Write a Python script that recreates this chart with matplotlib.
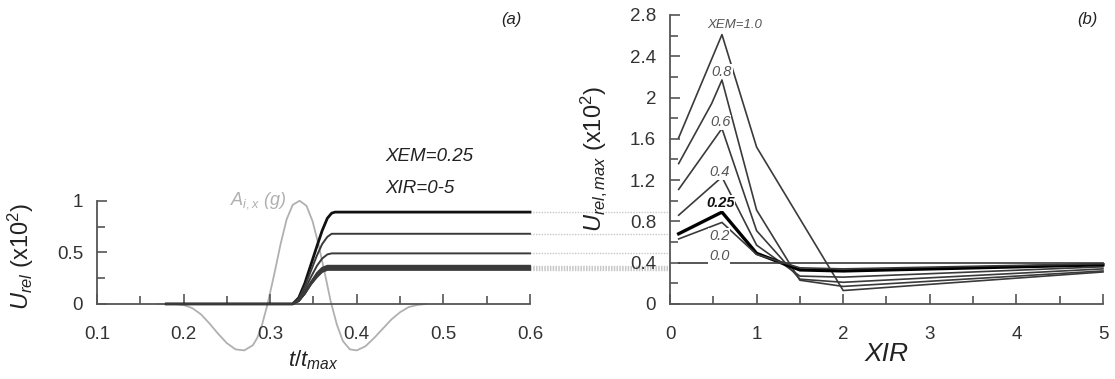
import matplotlib
matplotlib.use('Agg')
import matplotlib.pyplot as plt
import matplotlib.transforms as mtransforms
from matplotlib.ticker import FuncFormatter, MultipleLocator
import numpy as np

plt.rcParams['font.family'] = ['Liberation Sans', 'DejaVu Sans']
plt.rcParams['mathtext.fontset'] = 'custom'
plt.rcParams['mathtext.rm'] = 'Liberation Sans'
plt.rcParams['mathtext.it'] = 'Liberation Sans:italic'
plt.rcParams['mathtext.bf'] = 'Liberation Sans:bold'

# ---- panel (a): time histories, XEM=0.25, XIR=0-5
t_a = [0.18, 0.326, 0.333, 0.340, 0.347, 0.354, 0.360, 0.366, 0.371, 0.375, 0.6]
u_a = [
    [0, 0, 0.06, 0.20, 0.38, 0.56, 0.71, 0.83, 0.88, 0.89, 0.89],
    [0, 0, 0.05, 0.17, 0.32, 0.47, 0.58, 0.65, 0.68, 0.68, 0.68],
    [0, 0, 0.04, 0.14, 0.26, 0.37, 0.44, 0.48, 0.49, 0.49, 0.49],
    [0, 0, 0.03, 0.11, 0.21, 0.30, 0.35, 0.37, 0.37, 0.37, 0.37],
    [0, 0, 0.03, 0.11, 0.21, 0.29, 0.34, 0.36, 0.36, 0.36, 0.36],
    [0, 0, 0.03, 0.10, 0.20, 0.28, 0.33, 0.35, 0.35, 0.35, 0.35],
    [0, 0, 0.03, 0.10, 0.19, 0.27, 0.32, 0.34, 0.34, 0.34, 0.34],
    [0, 0, 0.03, 0.10, 0.19, 0.26, 0.31, 0.33, 0.33, 0.33, 0.33],
]
plateaus = [0.89, 0.68, 0.49, 0.37, 0.36, 0.35, 0.34, 0.33]

# ground acceleration pulse (grey)
t_acc = [0.17, 0.19, 0.20, 0.21, 0.22, 0.23, 0.24, 0.25, 0.26, 0.27, 0.28, 0.285,
         0.29, 0.297, 0.305, 0.312, 0.319, 0.326, 0.334, 0.342, 0.349, 0.356,
         0.363, 0.37, 0.377, 0.384, 0.392, 0.40, 0.41, 0.42, 0.43, 0.44, 0.45,
         0.46, 0.47, 0.48]
a_acc = [0.0, 0.0, -0.01, -0.04, -0.10, -0.19, -0.29, -0.38, -0.44, -0.45, -0.40,
         -0.33, -0.22, 0.0, 0.30, 0.58, 0.82, 0.96, 1.0, 0.95, 0.80, 0.57,
         0.30, 0.02, -0.20, -0.36, -0.44, -0.45, -0.41, -0.33, -0.24, -0.15,
         -0.08, -0.03, -0.01, 0.0]

# ---- panel (b): peak relative displacement vs XIR
xem_vals = ['1.0', '0.8', '0.6', '0.4', '0.25', '0.2', '0.0']
xir_b = {
    '1.0': [0.1, 0.6, 1.0, 2.0, 5.0],
    '0.8': [0.1, 0.48, 0.6, 1.0, 1.5, 2.0, 5.0],
    '0.6': [0.1, 0.6, 1.0, 1.5, 2.0, 5.0],
    '0.4': [0.1, 0.6, 1.0, 1.5, 2.0, 5.0],
    '0.25': [0.1, 0.6, 1.0, 1.5, 2.0, 5.0],
    '0.2': [0.1, 0.6, 1.0, 1.5, 2.0, 5.0],
    '0.0': [0.1, 5.0],
}
u_b = {
    '1.0': [1.61, 2.61, 1.52, 0.13, 0.31],
    '0.8': [1.36, 1.94, 2.17, 0.91, 0.23, 0.17, 0.32],
    '0.6': [1.11, 1.70, 0.71, 0.24, 0.21, 0.34],
    '0.4': [0.86, 1.23, 0.57, 0.27, 0.26, 0.36],
    '0.25': [0.68, 0.89, 0.49, 0.33, 0.32, 0.38],
    '0.2': [0.63, 0.79, 0.48, 0.35, 0.34, 0.39],
    '0.0': [0.40, 0.40],
}
lab_pos = {'1.0': (0.75, 2.70), '0.8': (0.6, 2.25), '0.6': (0.58, 1.76),
           '0.4': (0.57, 1.28), '0.25': (0.58, 0.98), '0.2': (0.57, 0.66),
           '0.0': (0.57, 0.46)}

fig = plt.figure(figsize=(11.15, 3.79), dpi=100)
axa = fig.add_axes([0.087, 0.198, 0.3883, 0.7625])
axb = fig.add_axes([0.6009, 0.198, 0.3883, 0.7625])

spc = '#555555'
tkc = '#333333'
for ax in (axa, axb):
    ax.spines['top'].set_visible(False)
    ax.spines['right'].set_visible(False)
    for s in ('left', 'bottom'):
        ax.spines[s].set_color(spc)
        ax.spines[s].set_linewidth(1.3)
    ax.tick_params(which='both', direction='in', color=spc, width=1.2,
                   labelcolor=tkc, labelsize=13.5)
    ax.tick_params(which='major', length=7)
    ax.tick_params(which='minor', length=6)
    ax.tick_params(axis='x', pad=16)
    ax.tick_params(axis='y', pad=10)
    ax.xaxis.set_major_formatter(FuncFormatter(lambda v, p: '%g' % round(v, 2)))
    ax.yaxis.set_major_formatter(FuncFormatter(lambda v, p: '%g' % round(v, 2)))
    ax.set_ylim(0, 2.8)

# panel a
axa.plot(t_acc, a_acc, color='#b0b0b0', lw=1.3, clip_on=False, zorder=1)
for i, u in enumerate(u_a):
    axa.plot(t_a, u, color='#111111' if i == 0 else '#3a3a3a',
             lw=2.0 if i == 0 else 1.4, zorder=3, clip_on=False)
axa.set_xlim(0.1, 0.6)
axa.spines['left'].set_bounds(0, 1)
axa.set_xticks([0.1, 0.2, 0.3, 0.4, 0.5, 0.6])
axa.xaxis.set_minor_locator(MultipleLocator(0.05))
axa.set_yticks([0, 0.5, 1])
axa.set_yticks([0.25, 0.75], minor=True)
axa.set_xlabel(r'$t/t_{max}$', fontsize=16, color='#222222')
axa.xaxis.set_label_coords(0.5, -0.155)
axa.set_ylabel(r'$U_{rel}$ (x10$^2$)', fontsize=17, color='#222222')
axa.yaxis.set_label_coords(-0.14, 0.165)
axa.text(0.665, 0.51, 'XEM=0.25', transform=axa.transAxes, fontsize=13.5,
         style='italic', color='#222222', va='center')
axa.text(0.665, 0.40, 'XIR=0-5', transform=axa.transAxes, fontsize=13.5,
         style='italic', color='#222222', va='center')
axa.text(0.318, 1.0, r'$A_{i,x}$ (g)', fontsize=13, style='italic',
         color='#b0b0b0', ha='right', va='center', transform=axa.transData)
axa.text(0.957, 0.985, '(a)', transform=axa.transAxes, fontsize=12,
         style='italic', color='#222222', ha='center', va='center')

# panel b
for k in xem_vals:
    bold = k == '0.25'
    axb.plot(xir_b[k], u_b[k], color='#000000' if bold else '#3a3a3a',
             lw=2.4 if bold else 1.2, zorder=3, clip_on=False)
    lx, ly = lab_pos[k]
    txt = 'XEM=' + k if k == '1.0' else k
    axb.text(lx, ly, txt, fontsize=9.5 if k == '1.0' else 10.5, style='italic',
             fontweight='bold' if bold else 'normal',
             color='#111111' if bold else '#555555', ha='center', va='center',
             zorder=4, bbox=dict(boxstyle='square,pad=0.05', fc='white', ec='none'))
axb.set_xlim(0, 5)
axb.set_xticks([0, 1, 2, 3, 4, 5])
axb.xaxis.set_minor_locator(MultipleLocator(0.5))
axb.set_yticks(np.arange(0, 2.81, 0.4))
axb.yaxis.set_minor_locator(MultipleLocator(0.2))
axb.set_xlabel('XIR', fontsize=19, style='italic', color='#222222')
axb.xaxis.set_label_coords(0.5, -0.13)
axb.set_ylabel(r'$U_{rel,max}$ (x10$^2$)', fontsize=17, color='#222222')
axb.yaxis.set_label_coords(-0.14, 0.5)
axb.text(0.965, 0.985, '(b)', transform=axb.transAxes, fontsize=12,
         style='italic', color='#222222', ha='center', va='center')

# dotted guide lines from panel a plateaus to panel b axis
tr = mtransforms.blended_transform_factory(fig.transFigure, axb.transData)
x0 = axa.get_position().x1
x1 = axb.get_position().x0
for p in plateaus:
    fig.add_artist(plt.Line2D([x0, x1], [p, p], transform=tr, color='#c8c8c8',
                              lw=1.0, ls=(0, (1, 1)), zorder=0))

fig.savefig('out.png', dpi=100)
